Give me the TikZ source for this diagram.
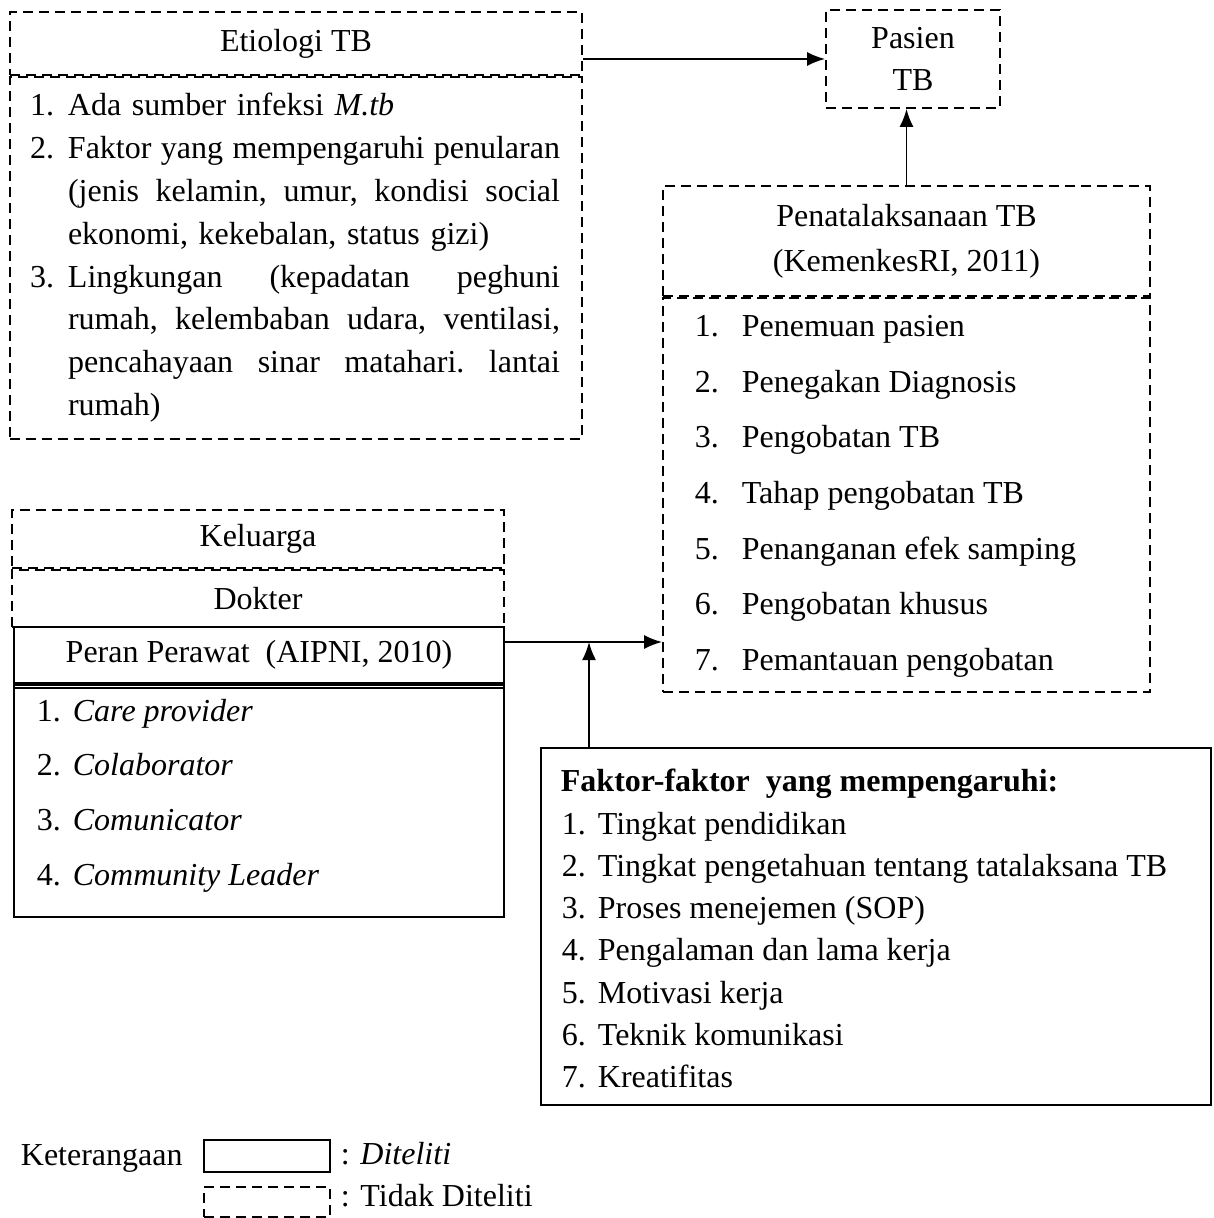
\documentclass[tikz,border=0pt]{standalone}
\usepackage{fontspec}
\setmainfont{Liberation Serif}
\usetikzlibrary{positioning,arrows.meta}

\newcommand{\justline}[1]{\hbox to 246pt{#1}}

\begin{document}
\begin{tikzpicture}[x=0.5pt,y=-0.5pt,line width=0.9pt,font=\fontsize{16}{21.4}\selectfont,
  solidbox/.style={draw,rectangle,inner sep=0pt},
  dashbox/.style={draw,rectangle,inner sep=0pt,dash pattern=on 5pt off 3pt},
  item/.style={anchor=base west,inner sep=0pt},
  arr/.style={-{Latex[length=9pt,width=7pt]}}]
\useasboundingbox (0,0) rectangle (1213,1218);
% etiologi
\node[dashbox,minimum width=286pt,minimum height=31.5pt] (etio) at (296,43.5) {Etiologi TB};
\node[dashbox,minimum width=286pt,minimum height=181pt,below=0pt of etio] (etiobody) {};
\node[text width=266pt,align=left,inner sep=0pt] (etiolist) at (etiobody) {%
  \makebox[19pt][l]{1.}Ada sumber infeksi \textit{M.tb}\\
  \makebox[19pt][l]{2.}\justline{Faktor\hfill yang\hfill mempengaruhi\hfill penularan}\\
  \hspace*{19pt}\justline{(jenis\hfill kelamin,\hfill umur,\hfill kondisi\hfill social}\\
  \hspace*{19pt}ekonomi, kekebalan, status gizi)\\
  \makebox[19pt][l]{3.}\justline{Lingkungan\hfill(kepadatan\hfill peghuni}\\
  \hspace*{19pt}\justline{rumah,\hfill kelembaban\hfill udara,\hfill ventilasi,}\\
  \hspace*{19pt}\justline{pencahayaan\hfill sinar\hfill matahari.\hfill lantai}\\
  \hspace*{19pt}rumah)};
% pasien
\node[dashbox,minimum width=87pt,minimum height=49pt,align=center] (pasien) at (913,59) {Pasien\\TB};
\draw[arr] (pasien.west -| etio.east) -- (pasien.west);
% penatalaksanaan
\node[dashbox,minimum width=243.5pt,minimum height=55pt,align=center,
  font=\fontsize{16}{22.5}\selectfont] (pena) at (906.5,241) {Penatalaksanaan TB\\(KemenkesRI, 2011)};
\node[dashbox,minimum width=243.5pt,minimum height=197pt,below=0pt of pena] (penabody) {};
\foreach \t [count=\i] in {Penemuan pasien,Penegakan Diagnosis,Pengobatan TB,Tahap pengobatan TB,
  Penanganan efek samping,Pengobatan khusus,Pemantauan pengobatan} {
  \node[item] (pen\i) at (694,{337+55.5*(\i-1)}) {\makebox[23.5pt][l]{\i.}\t};
}
\draw[arr] (pena.north) -- (pena.north |- pasien.south);
% peran perawat
\node[dashbox,minimum width=246pt,minimum height=29pt] (kel) at (258,539) {Keluarga};
\node[dashbox,minimum width=246pt,minimum height=28.5pt,below=0pt of kel] (dok) {Dokter};
\node[solidbox,minimum width=245pt,minimum height=28pt] (peran) at (259,655) {Peran Perawat\ \ (AIPNI, 2010)};
\node[solidbox,minimum width=245pt,minimum height=116pt,below=0pt of peran] (peranbody) {};
\draw ([yshift=-2pt]peranbody.north west) -- ([yshift=-2pt]peranbody.north east);
\foreach \t [count=\i] in {Care provider,Colaborator,Comunicator,Community Leader} {
  \node[item] (per\i) at (36,{721+54.7*(\i-1)}) {\makebox[18pt][l]{\i.}\textit{\t}};
}
% faktor
\node[solidbox,minimum width=335pt,minimum height=178.5pt] (faktor) at (876,926.5) {};
\node[item,font=\fontsize{16}{21.4}\selectfont\bfseries] (fakhead) at (560,791) {Faktor-faktor\ \ yang mempengaruhi:};
\foreach \t [count=\i] in {Tingkat pendidikan,Tingkat pengetahuan tentang tatalaksana TB,Proses menejemen (SOP),
  Pengalaman dan lama kerja,Motivasi kerja,Teknik komunikasi,Kreatifitas} {
  \node[item] (fak\i) at (561,{834+42.3*(\i-1)}) {\makebox[18pt][l]{\i.}\t};
}
\coordinate (meet) at (589,642);
\draw[arr] (peran.east |- meet) -- (penabody.west |- meet);
\draw[arr] (faktor.north -| meet) -- (meet);
% keterangan
\node[item] (ket) at (20,1165) {Keterangaan};
\node[solidbox,minimum width=63pt,minimum height=16pt] (legsolid) at (267,1156) {};
\node[item] (legsolidtxt) at (340,1164) {: \textit{Diteliti}};
\node[dashbox,minimum width=63pt,minimum height=15pt] (legdash) at (267,1202) {};
\node[item] (legdashtxt) at (340,1206) {: Tidak Diteliti};
\end{tikzpicture}
\end{document}
